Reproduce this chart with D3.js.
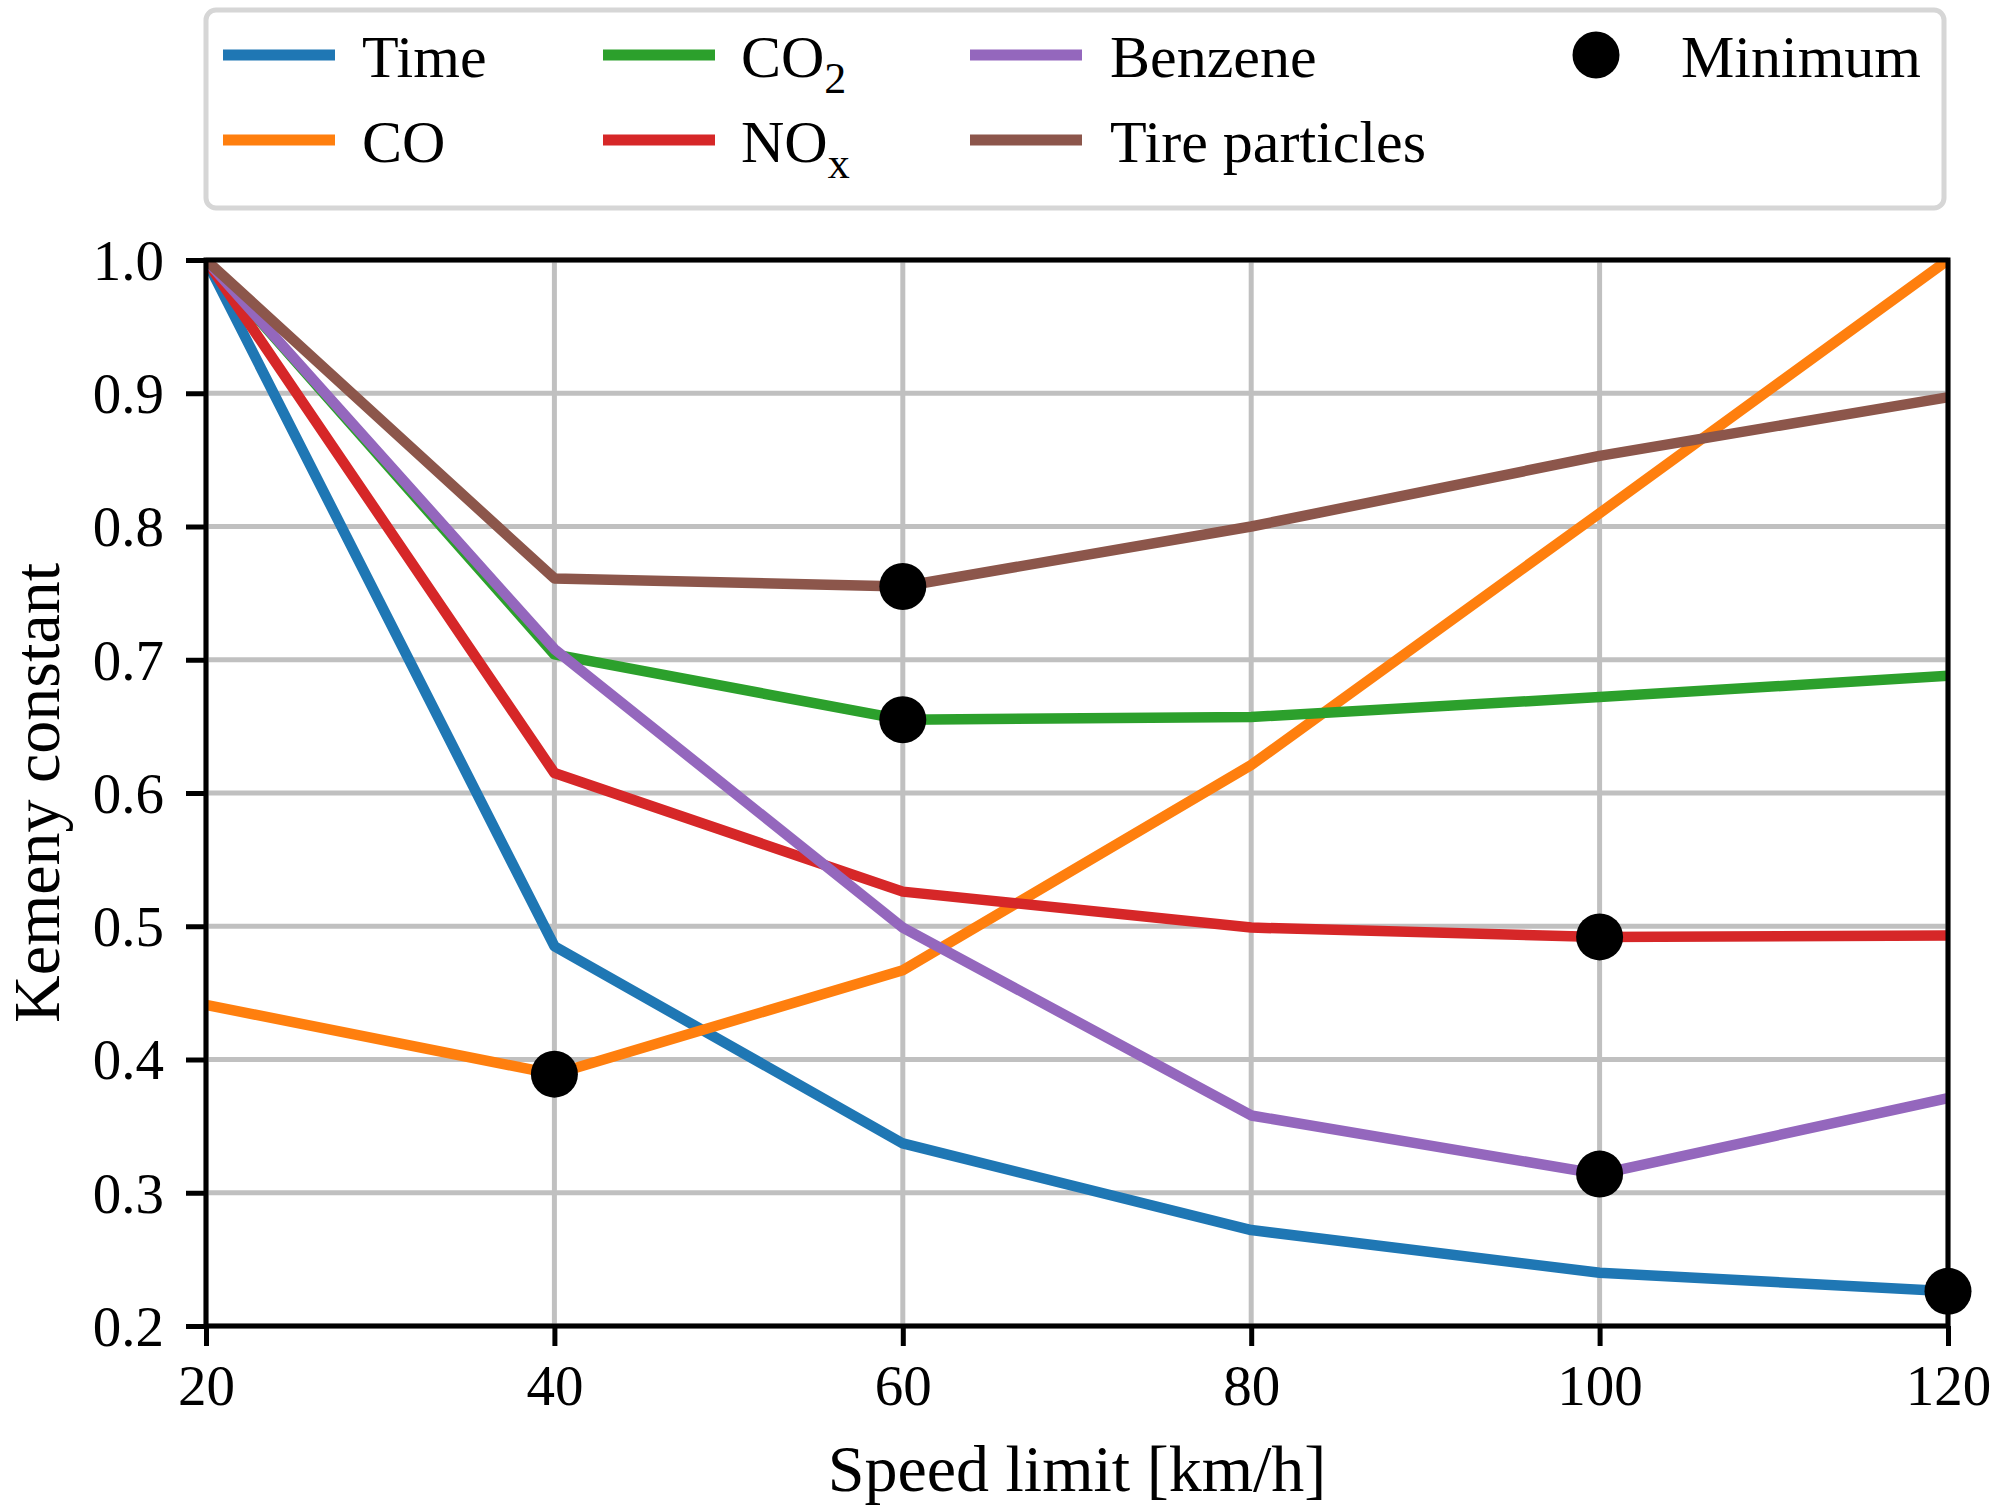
<!DOCTYPE html>
<html>
<head>
<meta charset="utf-8">
<script src="https://cdn.jsdelivr.net/npm/d3@7"></script>
<style>
  html, body { margin: 0; padding: 0; background: #fff; }
  svg { display: block; }
  text { font-family: "Liberation Serif", "DejaVu Serif", serif; fill: #000; }
</style>
</head>
<body>
<svg id="chart" width="2000" height="1512"></svg>
<script>
// ---- data ----
const speeds = [20, 40, 60, 80, 100, 120];
const timeVals    = [1.000, 0.485, 0.337, 0.272, 0.240, 0.226];
const coVals      = [0.441, 0.389, 0.467, 0.621, 0.810, 1.000];
const co2Vals     = [1.000, 0.704, 0.655, 0.657, 0.672, 0.688];
const noxVals     = [1.000, 0.615, 0.526, 0.499, 0.492, 0.493];
const benzeneVals = [1.000, 0.708, 0.499, 0.358, 0.314, 0.371];
const tireVals    = [1.000, 0.761, 0.755, 0.800, 0.853, 0.897];

const seriesNames = ["Time", "CO", "CO2", "NOx", "Benzene", "Tire particles"];
const seriesValues = [timeVals, coVals, co2Vals, noxVals, benzeneVals, tireVals];
const seriesColors = ["#1f77b4", "#ff7f0e", "#2ca02c", "#d62728", "#9467bd", "#8c564b"];

const xTicks = [20, 40, 60, 80, 100, 120];
const yTicks = [0.2, 0.3, 0.4, 0.5, 0.6, 0.7, 0.8, 0.9, 1.0];

// ---- layout ----
const L = 206, R = 1948, T = 260, B = 1326;
const FS = 57, LFS = 60, AFS = 66;
const svg = d3.select("#chart");

const x = d3.scaleLinear().domain([20, 120]).range([L, R]);
const y = d3.scaleLinear().domain([0.2, 1.0]).range([B, T]);

// clip
svg.append("defs").append("clipPath").attr("id", "plotclip")
  .append("rect").attr("x", L).attr("y", T).attr("width", R - L).attr("height", B - T);

// grid
const grid = svg.append("g");
grid.selectAll("line.gx").data(xTicks).join("line")
  .attr("x1", d => x(d)).attr("x2", d => x(d)).attr("y1", T).attr("y2", B)
  .attr("stroke", "#c0c0c0").attr("stroke-width", 5);
grid.selectAll("line.gy").data(yTicks).join("line")
  .attr("y1", d => y(d)).attr("y2", d => y(d)).attr("x1", L).attr("x2", R)
  .attr("stroke", "#c0c0c0").attr("stroke-width", 5);

// lines
const line = d3.line().x((d, i) => x(speeds[i])).y(d => y(d));
const linesG = svg.append("g").attr("clip-path", "url(#plotclip)");
seriesValues.forEach((vals, k) => {
  linesG.append("path").datum(vals)
    .attr("d", line)
    .attr("fill", "none")
    .attr("stroke", seriesColors[k])
    .attr("stroke-width", 10.5)
    .attr("stroke-linejoin", "round")
    .attr("stroke-linecap", "square");
});

// axes
const xAxis = d3.axisBottom(x).tickValues(xTicks).tickSize(20).tickPadding(10).tickFormat(d3.format("d"));
const yAxis = d3.axisLeft(y).tickValues(yTicks).tickSize(20).tickPadding(22).tickFormat(d3.format(".1f"));
const gx = svg.append("g").attr("transform", `translate(0,${B})`).call(xAxis);
const gy = svg.append("g").attr("transform", `translate(${L},0)`).call(yAxis);
[gx, gy].forEach(g => {
  g.select(".domain").remove();
  g.selectAll(".tick line").attr("stroke", "#000").attr("stroke-width", 5);
  g.selectAll(".tick text").attr("font-size", FS).attr("font-family", "Liberation Serif").attr("fill", "#000");
});
gx.selectAll(".tick text").attr("dy", null).attr("y", 79);
gy.selectAll(".tick text").attr("dy", "0.34em");

// spines
svg.append("rect").attr("x", L).attr("y", T).attr("width", R - L).attr("height", B - T)
  .attr("fill", "none").attr("stroke", "#000").attr("stroke-width", 5);

// minimum markers (from data)
const minima = seriesValues.map(vals => {
  const i = d3.minIndex(vals);
  return { sx: speeds[i], v: vals[i] };
});
svg.append("g").selectAll("circle").data(minima).join("circle")
  .attr("cx", d => x(d.sx)).attr("cy", d => y(d.v)).attr("r", 23.5).attr("fill", "#000");

// axis labels
svg.append("text").attr("x", (L + R) / 2).attr("y", 1491).attr("text-anchor", "middle")
  .attr("font-size", AFS).text("Speed limit [km/h]");
svg.append("text").attr("transform", `translate(59,${(T + B) / 2}) rotate(-90)`)
  .attr("text-anchor", "middle").attr("font-size", AFS).text("Kemeny constant");

// legend
const lg = svg.append("g");
lg.append("rect").attr("x", 206).attr("y", 10).attr("width", 1738).attr("height", 198)
  .attr("rx", 10).attr("ry", 10).attr("fill", "#fff").attr("fill-opacity", 0.8)
  .attr("stroke", "#d6d6d6").attr("stroke-width", 5);

const colX = [223, 603, 970];
const textX = [362, 741, 1110];
const rowLineY = [55, 140];
const rowBase = [77, 162];
const legendItems = [
  { k: 0, col: 0, row: 0 }, { k: 1, col: 0, row: 1 },
  { k: 2, col: 1, row: 0 }, { k: 3, col: 1, row: 1 },
  { k: 4, col: 2, row: 0 }, { k: 5, col: 2, row: 1 }
];
const legendLabels = [
  [["Time"]], [["CO"]], [["CO"], ["2", "sub"]], [["NO"], ["x", "sub"]],
  [["Benzene"]], [["Tire particles"]]
];
legendItems.forEach(it => {
  lg.append("line")
    .attr("x1", colX[it.col]).attr("x2", colX[it.col] + 112)
    .attr("y1", rowLineY[it.row]).attr("y2", rowLineY[it.row])
    .attr("stroke", seriesColors[it.k]).attr("stroke-width", 11);
  const t = lg.append("text").attr("x", textX[it.col]).attr("y", rowBase[it.row]).attr("font-size", LFS);
  legendLabels[it.k].forEach(part => {
    const ts = t.append("tspan").text(part[0]);
    if (part[1] === "sub") ts.attr("font-size", 44).attr("dy", 16);
  });
});
lg.append("circle").attr("cx", 1596).attr("cy", 55).attr("r", 23.5).attr("fill", "#000");
lg.append("text").attr("x", 1681).attr("y", 77).attr("font-size", LFS).text("Minimum");
</script>
</body>
</html>
